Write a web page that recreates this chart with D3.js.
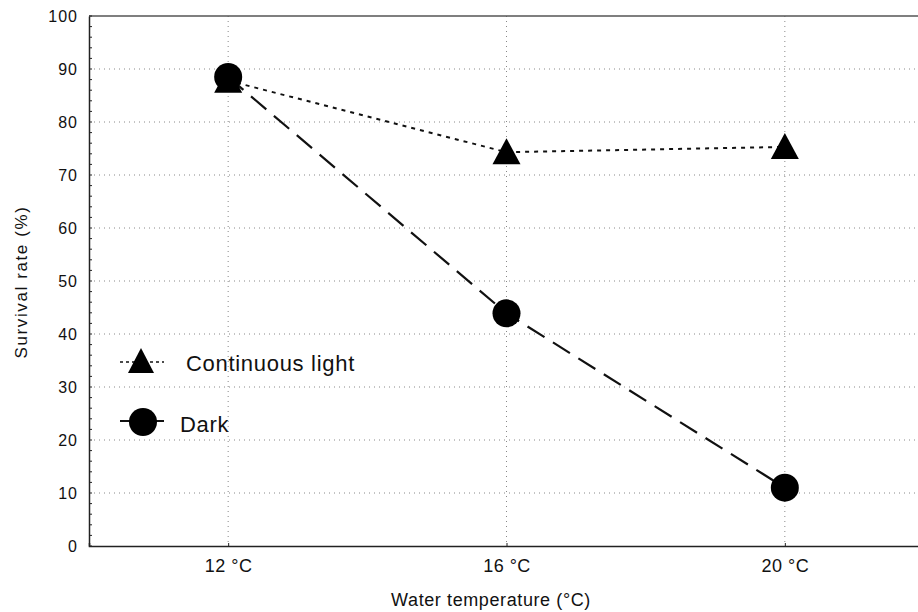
<!DOCTYPE html>
<html>
<head>
<meta charset="utf-8">
<script src="https://cdn.jsdelivr.net/npm/d3@7"></script>
<style>
  body { margin: 0; background: #fff; }
  text { font-family: "Liberation Sans", Arial, sans-serif; fill: #111; }
</style>
</head>
<body>
<script>
var categories = ['12 °C', '16 °C', '20 °C'];
var light_values = [87.8, 74.3, 75.3];
var dark_values = [88.5, 43.9, 11];
var y_ticks = [0, 10, 20, 30, 40, 50, 60, 70, 80, 90, 100];
var y_minor = d3.range(0, 101, 2);

var width = 918, height = 612;
var margin = { top: 16, right: -6, bottom: 66, left: 89 };
var plot_w = width - margin.left - margin.right;
var plot_h = height - margin.top - margin.bottom;

var svg = d3.select('body').append('svg')
    .attr('width', width)
    .attr('height', height);

var g = svg.append('g')
    .attr('transform', `translate(${margin.left}, ${margin.top})`);

var x = d3.scalePoint()
    .domain(categories)
    .range([0, plot_w])
    .padding(0.5);

var y = d3.scaleLinear()
    .domain([0, 100])
    .range([plot_h, 0]);

// dotted grid
g.append('g').selectAll('line.hgrid').data(y_ticks.slice(1, -1)).enter()
    .append('line')
    .attr('x1', 0).attr('x2', plot_w)
    .attr('y1', d => y(d)).attr('y2', d => y(d))
    .attr('stroke', '#888').attr('stroke-width', 1)
    .attr('stroke-dasharray', '1,4');

g.append('g').selectAll('line.vgrid').data(categories).enter()
    .append('line')
    .attr('x1', d => x(d)).attr('x2', d => x(d))
    .attr('y1', 0).attr('y2', plot_h)
    .attr('stroke', '#888').attr('stroke-width', 1)
    .attr('stroke-dasharray', '1,4');

// top frame
g.append('line').attr('x1', 0).attr('x2', plot_w).attr('y1', 0).attr('y2', 0)
    .attr('stroke', '#555').attr('stroke-width', 1.5);

// axes
var yaxis = g.append('g')
    .call(d3.axisLeft(y).tickValues(y_ticks).tickSize(0).tickPadding(11));
yaxis.select('.domain').attr('stroke', '#222').attr('stroke-width', 1.5);
yaxis.selectAll('text')
    .style('font-size', '16px')
    .style('letter-spacing', '1px')
    .attr('fill', '#111');

g.append('g').selectAll('line.minor').data(y_minor).enter()
    .append('line')
    .attr('x1', 0).attr('x2', 3)
    .attr('y1', d => y(d)).attr('y2', d => y(d))
    .attr('stroke', '#222').attr('stroke-width', 1);

var xaxis = g.append('g')
    .attr('transform', `translate(0, ${plot_h})`)
    .call(d3.axisBottom(x).tickSize(-3).tickPadding(13));
xaxis.select('.domain').attr('stroke', '#222').attr('stroke-width', 1.5);
xaxis.selectAll('.tick line').attr('stroke', '#222');
xaxis.selectAll('text')
    .style('font-size', '18px')
    .style('letter-spacing', '0.5px')
    .attr('fill', '#111');

// axis titles
svg.append('text')
    .attr('transform', `translate(27, 282) rotate(-90)`)
    .attr('text-anchor', 'middle')
    .style('font-size', '17px')
    .style('letter-spacing', '1.6px')
    .text('Survival rate (%)');

svg.append('text')
    .attr('x', 491)
    .attr('y', 606)
    .attr('text-anchor', 'middle')
    .style('font-size', '18px')
    .style('letter-spacing', '0.6px')
    .text('Water temperature (°C)');

// lines
var line = d3.line()
    .x((d, i) => x(categories[i]))
    .y(d => y(d));

g.append('path')
    .datum(light_values)
    .attr('d', line)
    .attr('fill', 'none')
    .attr('stroke', '#111')
    .attr('stroke-width', 2)
    .attr('stroke-dasharray', '4,5');

g.append('path')
    .datum(dark_values)
    .attr('d', line)
    .attr('fill', 'none')
    .attr('stroke', '#111')
    .attr('stroke-width', 2.2)
    .attr('stroke-dasharray', '20,10');

// triangle slightly taller than equilateral, like the print
function triangle(w, h, up) {
    return `M0,${-up}L${w / 2},${h - up}L${-w / 2},${h - up}Z`;
}

g.selectAll('path.light_mark').data(light_values).enter()
    .append('path')
    .attr('class', 'light_mark')
    .attr('d', triangle(28, 26, 14))
    .attr('transform', (d, i) => `translate(${x(categories[i])}, ${y(d)})`)
    .attr('fill', '#000');

g.selectAll('circle.dark_mark').data(dark_values).enter()
    .append('circle')
    .attr('class', 'dark_mark')
    .attr('cx', (d, i) => x(categories[i]))
    .attr('cy', d => y(d))
    .attr('r', 14)
    .attr('fill', '#000');

// legend
var legend = svg.append('g');
legend.append('line')
    .attr('x1', 120).attr('x2', 164).attr('y1', 362).attr('y2', 362)
    .attr('stroke', '#111').attr('stroke-width', 1.5).attr('stroke-dasharray', '3,3');
legend.append('path')
    .attr('d', triangle(26, 25, 14))
    .attr('transform', 'translate(141, 362)')
    .attr('fill', '#000');
legend.append('text')
    .attr('x', 186).attr('y', 371)
    .style('font-size', '22px')
    .style('letter-spacing', '0.7px')
    .text('Continuous light');

legend.append('line')
    .attr('x1', 120).attr('x2', 164).attr('y1', 421).attr('y2', 421)
    .attr('stroke', '#111').attr('stroke-width', 2);
legend.append('circle')
    .attr('cx', 143).attr('cy', 422).attr('r', 14)
    .attr('fill', '#000');
legend.append('text')
    .attr('x', 180).attr('y', 432)
    .style('font-size', '22px')
    .style('letter-spacing', '0.7px')
    .text('Dark');
</script>
</body>
</html>
